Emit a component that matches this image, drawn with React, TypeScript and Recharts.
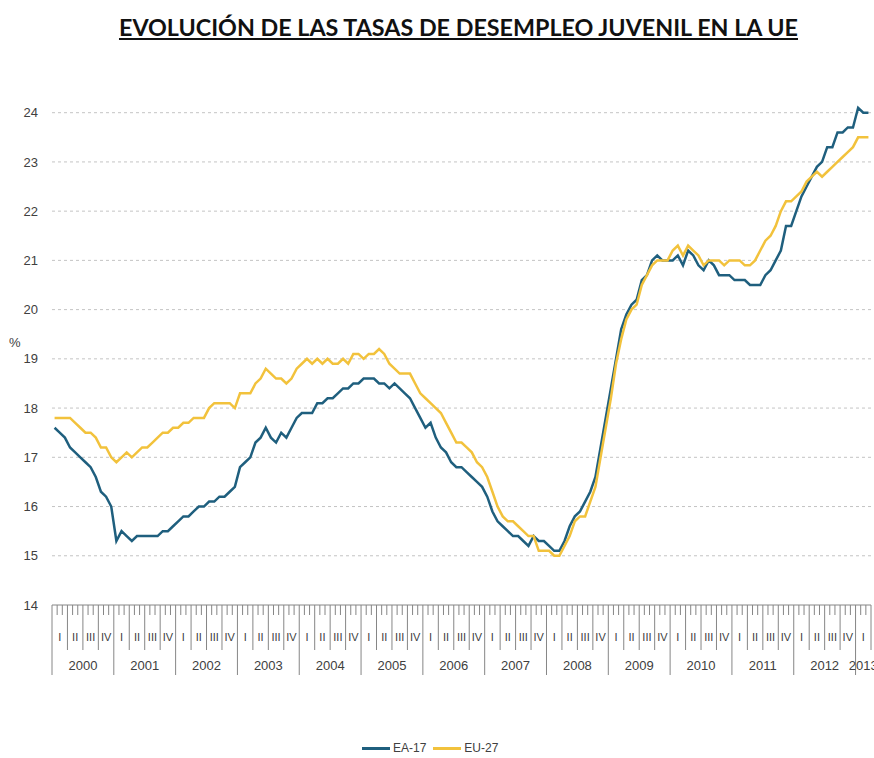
import { CartesianGrid, Legend, Line, LineChart, XAxis, YAxis } from 'recharts';

// monthly youth unemployment rates (%), Jan 2000 .. Mar 2013
const years = ['2000', '2001', '2002', '2003', '2004', '2005', '2006', '2007', '2008', '2009', '2010', '2011', '2012', '2013'];
const quarterLabels = ['I', 'II', 'III', 'IV'];
const yTicks = [14, 15, 16, 17, 18, 19, 20, 21, 22, 23, 24];

const ea17 = [
  17.6, 17.5, 17.4, 17.2, 17.1, 17.0, 16.9, 16.8, 16.6, 16.3, 16.2, 16.0,
  15.3, 15.5, 15.4, 15.3, 15.4, 15.4, 15.4, 15.4, 15.4, 15.5, 15.5, 15.6,
  15.7, 15.8, 15.8, 15.9, 16.0, 16.0, 16.1, 16.1, 16.2, 16.2, 16.3, 16.4,
  16.8, 16.9, 17.0, 17.3, 17.4, 17.6, 17.4, 17.3, 17.5, 17.4, 17.6, 17.8,
  17.9, 17.9, 17.9, 18.1, 18.1, 18.2, 18.2, 18.3, 18.4, 18.4, 18.5, 18.5,
  18.6, 18.6, 18.6, 18.5, 18.5, 18.4, 18.5, 18.4, 18.3, 18.2, 18.0, 17.8,
  17.6, 17.7, 17.4, 17.2, 17.1, 16.9, 16.8, 16.8, 16.7, 16.6, 16.5, 16.4,
  16.2, 15.9, 15.7, 15.6, 15.5, 15.4, 15.4, 15.3, 15.2, 15.4, 15.3, 15.3,
  15.2, 15.1, 15.1, 15.3, 15.6, 15.8, 15.9, 16.1, 16.3, 16.6, 17.2, 17.8,
  18.4, 19.0, 19.6, 19.9, 20.1, 20.2, 20.6, 20.7, 21.0, 21.1, 21.0, 21.0,
  21.0, 21.1, 20.9, 21.2, 21.1, 20.9, 20.8, 21.0, 20.9, 20.7, 20.7, 20.7,
  20.6, 20.6, 20.6, 20.5, 20.5, 20.5, 20.7, 20.8, 21.0, 21.2, 21.7, 21.7,
  22.0, 22.3, 22.5, 22.7, 22.9, 23.0, 23.3, 23.3, 23.6, 23.6, 23.7, 23.7,
  24.1, 24.0, 24.0,
];

const eu27 = [
  17.8, 17.8, 17.8, 17.8, 17.7, 17.6, 17.5, 17.5, 17.4, 17.2, 17.2, 17.0,
  16.9, 17.0, 17.1, 17.0, 17.1, 17.2, 17.2, 17.3, 17.4, 17.5, 17.5, 17.6,
  17.6, 17.7, 17.7, 17.8, 17.8, 17.8, 18.0, 18.1, 18.1, 18.1, 18.1, 18.0,
  18.3, 18.3, 18.3, 18.5, 18.6, 18.8, 18.7, 18.6, 18.6, 18.5, 18.6, 18.8,
  18.9, 19.0, 18.9, 19.0, 18.9, 19.0, 18.9, 18.9, 19.0, 18.9, 19.1, 19.1,
  19.0, 19.1, 19.1, 19.2, 19.1, 18.9, 18.8, 18.7, 18.7, 18.7, 18.5, 18.3,
  18.2, 18.1, 18.0, 17.9, 17.7, 17.5, 17.3, 17.3, 17.2, 17.1, 16.9, 16.8,
  16.6, 16.3, 16.0, 15.8, 15.7, 15.7, 15.6, 15.5, 15.4, 15.4, 15.1, 15.1,
  15.1, 15.0, 15.0, 15.2, 15.4, 15.7, 15.8, 15.8, 16.1, 16.4, 17.0, 17.6,
  18.2, 18.9, 19.4, 19.8, 20.0, 20.1, 20.5, 20.7, 20.9, 21.0, 21.0, 21.0,
  21.2, 21.3, 21.1, 21.3, 21.2, 21.1, 20.9, 21.0, 21.0, 21.0, 20.9, 21.0,
  21.0, 21.0, 20.9, 20.9, 21.0, 21.2, 21.4, 21.5, 21.7, 22.0, 22.2, 22.2,
  22.3, 22.4, 22.6, 22.7, 22.8, 22.7, 22.8, 22.9, 23.0, 23.1, 23.2, 23.3,
  23.5, 23.5, 23.5,
];

const TEAL = '#1f5f7e';
const YELLOW = '#f2c23c';
const AXIS = '#868686';
const FONT = '"Liberation Sans", Arial, sans-serif';

const MONTHS = ea17.length;

// each point sits in the middle of its month slot
const data = ea17.map((v, i) => ({ m: i + 0.5, ea17: v, eu27: eu27[i] }));

const yearCenters = years.map((_, y) => (y * 12 + Math.min(y * 12 + 12, MONTHS)) / 2);

const xTicks = Array.from(
  new Set([
    ...Array.from({ length: MONTHS + 1 }, (_, i) => i),
    ...Array.from({ length: Math.ceil(MONTHS / 3) }, (_, q) => q * 3 + 1.5),
    ...yearCenters,
  ]),
).sort((a, b) => a - b);

function MonthTick({ x, y, payload }: any) {
  const v: number = payload.value;
  const parts = [];
  if (Number.isInteger(v)) {
    const len = v % 12 === 0 ? 70 : v % 3 === 0 ? 45 : 10;
    parts.push(<line key="l" x1={x} x2={x} y1={y} y2={y + len} stroke={AXIS} strokeWidth={1} />);
  }
  if ((v - 1.5) % 3 === 0) {
    parts.push(
      <text key="q" x={x} y={y + 36} textAnchor="middle" fontSize={11} fill="#404040" fontFamily={FONT}>
        {quarterLabels[((v - 1.5) / 3) % 4]}
      </text>,
    );
  }
  const yi = yearCenters.indexOf(v);
  if (yi >= 0) {
    parts.push(
      <text key="y" x={x} y={y + 65} textAnchor="middle" fontSize={13} fill="#404040" fontFamily={FONT}>
        {years[yi]}
      </text>,
    );
  }
  return <g>{parts}</g>;
}

function LegendContent({ payload }: any) {
  return (
    <div style={{ display: 'flex', alignItems: 'center', height: 20, fontSize: 12, color: '#404040', fontFamily: FONT }}>
      {(payload || []).map((p: any) => (
        <span key={p.value} style={{ display: 'flex', alignItems: 'center', marginRight: 7 }}>
          <span style={{ display: 'inline-block', width: 28, borderTop: `3px solid ${p.color}`, marginRight: 3 }} />
          {p.value}
        </span>
      ))}
    </div>
  );
}

export default function App() {
  return (
    <div style={{ position: 'absolute', left: 0, top: 0, width: 874, height: 758, background: '#fff', overflow: 'hidden' }}>
      <div
        style={{
          position: 'absolute',
          left: 0,
          top: 13,
          width: 917,
          textAlign: 'center',
          fontFamily: 'Lato, "Liberation Sans", sans-serif',
          fontWeight: 700,
          fontSize: 23.3,
          color: '#111',
          textDecoration: 'underline',
        }}
      >
        EVOLUCIÓN DE LAS TASAS DE DESEMPLEO JUVENIL EN LA UE
      </div>
      <div style={{ position: 'absolute', left: 9, top: 335, fontSize: 13, color: '#404040', fontFamily: FONT }}>%</div>
      <LineChart width={874} height={758} data={data} margin={{ top: 93, right: 3, left: 0, bottom: 0 }}>
        <CartesianGrid
          vertical={false}
          horizontalValues={yTicks.slice(1)}
          stroke="#c4c4c4"
          strokeDasharray="3 3"
        />
        <XAxis
          dataKey="m"
          type="number"
          domain={[0, MONTHS]}
          ticks={xTicks}
          interval={0}
          tick={<MonthTick />}
          tickLine={false}
          tickSize={0}
          tickMargin={0}
          stroke={AXIS}
          height={133}
        />
        <YAxis
          type="number"
          domain={[14, 24.4]}
          ticks={yTicks}
          axisLine={false}
          tickLine={false}
          tickMargin={8}
          width={52}
          tick={{ fontSize: 13, fill: '#404040', fontFamily: FONT }}
        />
        <Legend
          verticalAlign="bottom"
          content={<LegendContent />}
          wrapperStyle={{ left: 362, width: 'auto' }}
        />
        <Line type="linear" dataKey="ea17" name="EA-17" stroke={TEAL} strokeWidth={2.5} dot={false} isAnimationActive={false} />
        <Line type="linear" dataKey="eu27" name="EU-27" stroke={YELLOW} strokeWidth={2.5} dot={false} isAnimationActive={false} />
      </LineChart>
    </div>
  );
}
